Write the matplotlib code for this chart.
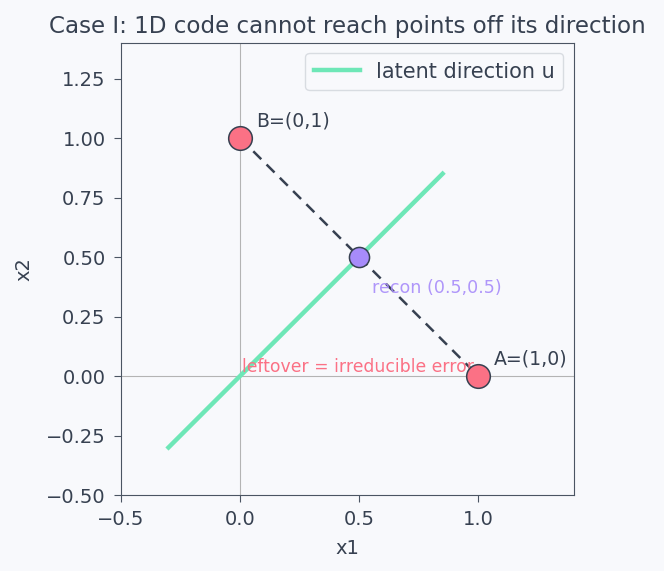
import numpy as np
import matplotlib.pyplot as plt

# points in the plane
pt_names = ['A=(1,0)', 'B=(0,1)']
pt_x = [1.0, 0.0]
pt_y = [0.0, 1.0]
# reconstruction on the latent direction
recon_x = [0.5]
recon_y = [0.5]
recon_label = 'recon (0.5,0.5)'
# latent direction segment
dir_x = [-0.3, 0.85]
dir_y = [-0.3, 0.85]
leftover_label = 'leftover = irreducible error'

bg = '#f8f9fc'
txt = '#374151'
red = '#fb7185'
green = '#6ee7b7'
purple = '#a78bfa'

plt.rcParams['text.color'] = txt
plt.rcParams['axes.labelcolor'] = txt
plt.rcParams['xtick.color'] = txt
plt.rcParams['ytick.color'] = txt

fig = plt.figure(figsize=(6.64, 5.71), dpi=100, facecolor=bg)
ax = fig.add_axes([0.182, 0.133, 0.682, 0.792], facecolor=bg)

ax.axhline(0, color='#b4b4b4', lw=0.8, zorder=0)
ax.axvline(0, color='#b4b4b4', lw=0.8, zorder=0)

ax.plot(dir_x, dir_y, color=green, lw=3.2, label='latent direction u', zorder=2)
ax.plot([pt_x[1], pt_x[0]], [pt_y[1], pt_y[0]], color=txt, lw=1.8, ls=(0, (4.5, 3)), zorder=3)
ax.scatter(pt_x, pt_y, s=290, color=red, edgecolor=txt, lw=1.1, zorder=4)
ax.scatter(recon_x, recon_y, s=210, color=purple, edgecolor=txt, lw=1.1, zorder=4)

for name, x, y in zip(pt_names, pt_x, pt_y):
    ax.text(x + 0.067, y + 0.03, name, fontsize=13.6, va='bottom', ha='left', color=txt)
ax.text(recon_x[0] + 0.055, recon_y[0] - 0.13, recon_label, fontsize=12.6, va='center',
        color=purple, alpha=0.9)
ax.text(0.01, 0.04, leftover_label, fontsize=12.4, va='center', color=red)

ax.set_xlim(-0.5, 1.4)
ax.set_ylim(-0.5, 1.4)
ax.set_xticks([-0.5, 0.0, 0.5, 1.0])
ax.set_yticks(np.arange(-0.5, 1.26, 0.25))
ax.tick_params(labelsize=14, color='#4b5563', pad=6, length=5)
for s in ax.spines.values():
    s.set_color('#4b5563')
ax.set_xlabel('x1', fontsize=14, labelpad=7)
ax.set_ylabel('x2', fontsize=14, labelpad=9)
ax.set_title('Case I: 1D code cannot reach points off its direction', fontsize=16.6, color=txt, pad=7)
leg = ax.legend(loc='upper right', fontsize=15, facecolor=bg, edgecolor='#d1d5db', handlelength=2.2)
for t in leg.get_texts():
    t.set_color(txt)

fig.savefig('out.png', dpi=100, facecolor=bg)
